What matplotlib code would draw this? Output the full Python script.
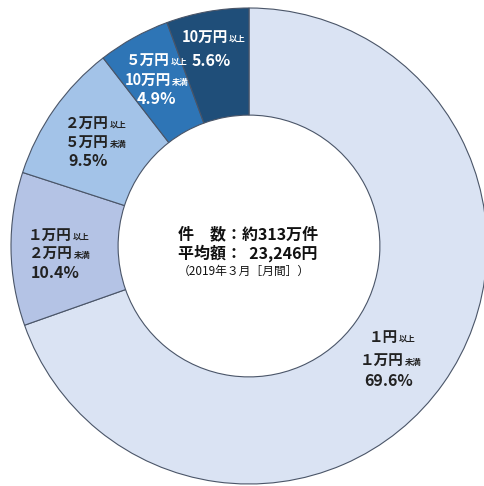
import matplotlib.pyplot as plt

plt.rcParams['font.family'] = ['Noto Sans CJK JP', 'DejaVu Sans']

# slices, clockwise from 12 o'clock
values = [69.6, 10.4, 9.5, 4.9, 5.6]
colors = ['#dae3f3', '#b4c3e5', '#a3c3e8', '#2e75b6', '#1f4e79']
range_lo = ['１円', '１万円', '２万円', '５万円', '10万円']
range_hi = ['１万円', '２万円', '５万円', '10万円', None]
pct_labels = ['69.6%', '10.4%', '9.5%', '4.9%', '5.6%']

center_lines = ['件\u3000数：約313万件', '平均額：  23,246円']
center_note = '（2019年３月［月間］）'

W, H = 484, 486
fig = plt.figure(figsize=(W / 100, H / 100), dpi=100)
cx, cy, R = 249, 246, 238
ax = fig.add_axes([(cx - R) / W, (H - cy - R) / H, 2 * R / W, 2 * R / H])
ax.pie(values, colors=colors, startangle=90, counterclock=False, radius=1,
       wedgeprops=dict(width=0.45, edgecolor='#4a5568', linewidth=0.8))
ax.set_xlim(-1, 1)
ax.set_ylim(-1, 1)
ax.axis('off')


def put(x, y, s, size, color, ha='center', weight='bold'):
    fig.text(x / W, 1 - y / H, s, fontsize=size, color=color, ha=ha,
             va='baseline', fontweight=weight)


def put_range(x, y, main, small, color):
    # big amount left of x, small 以上/未満 right after it
    put(x, y + 5, main, 10.5, color, ha='right')
    put(x + 1, y + 5, small, 6, color, ha='left')


# label anchors (junction x, line centre y) per slice
anchors = [
    [(398, 337), (404, 360), (389, 380)],
    [(72, 235), (73, 253), (55, 272)],
    [(109, 123), (109, 142), (88, 160)],
    [(170, 60), (171, 80), (156, 98)],
    [(228, 37), None, (211, 60)],
]
text_colors = ['#222222', '#222222', '#222222', 'white', 'white']

for i in range(len(values)):
    a = anchors[i]
    c = text_colors[i]
    put_range(a[0][0], a[0][1], range_lo[i], '以上', c)
    if range_hi[i] is not None:
        put_range(a[1][0], a[1][1], range_hi[i], '未満', c)
    put(a[2][0], a[2][1] + 6, pct_labels[i], 11.5, c)

put(248, 239, center_lines[0], 11.5, '#111111')
put(248, 259, center_lines[1], 11.5, '#111111')
put(244, 275, center_note, 8.5, '#111111', weight='normal')

fig.savefig('out.png', dpi=100)
